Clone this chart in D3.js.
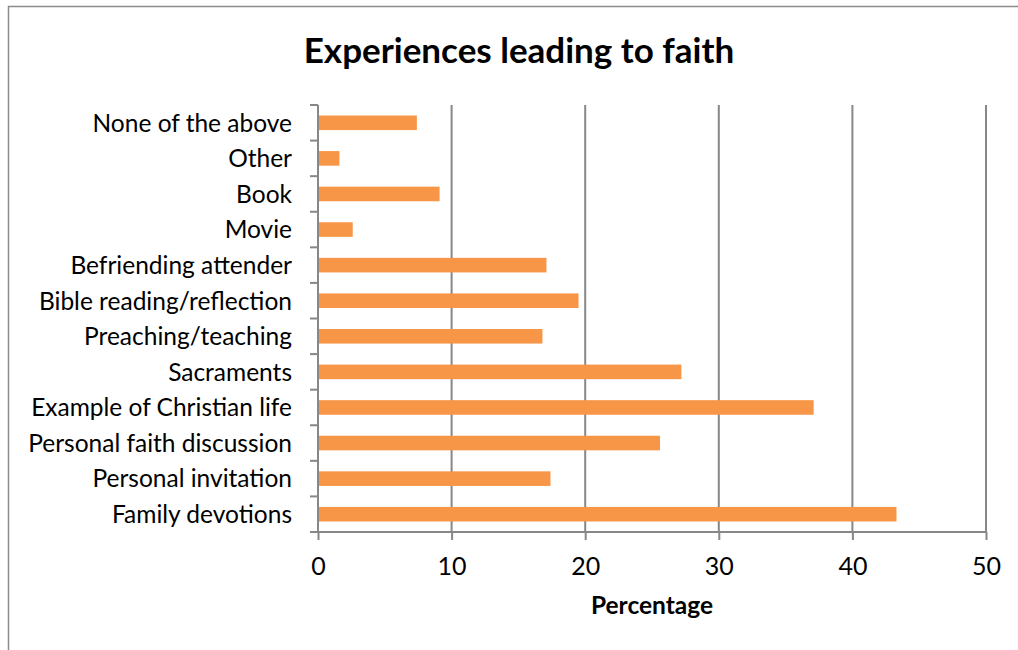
<!DOCTYPE html>
<html>
<head>
<meta charset="utf-8">
<script src="https://cdn.jsdelivr.net/npm/d3@7"></script>
<style>
  html, body { margin: 0; padding: 0; background: #fff; }
  svg { display: block; }
  text { font-family: Lato, "Open Sans", sans-serif; fill: #000; }
</style>
</head>
<body>
<svg id="chart" width="1018" height="650"></svg>
<script>
// Categories listed bottom-to-top as they appear on the chart
const categories = [
  "Family devotions",
  "Personal invitation",
  "Personal faith discussion",
  "Example of Christian life",
  "Sacraments",
  "Preaching/teaching",
  "Bible reading/reflection",
  "Befriending attender",
  "Movie",
  "Book",
  "Other",
  "None of the above"
];
const percentages = [43.3, 17.4, 25.6, 37.1, 27.2, 16.8, 19.5, 17.1, 2.6, 9.1, 1.6, 7.4];
const xTicks = [0, 10, 20, 30, 40, 50];
const chartTitle = "Experiences leading to faith";
const xAxisTitle = "Percentage";

const svg = d3.select("#chart");
const W = 1018, H = 650;
const margin = { left: 318, right: W - 986, top: 105, bottom: H - 532 };
const innerW = W - margin.left - margin.right;
const innerH = H - margin.top - margin.bottom;
const gridColor = "#878787";

// Outer chart frame
svg.append("path")
  .attr("d", `M8.5,${H} V6.5 H${W}`)
  .attr("fill", "none")
  .attr("stroke", "#8c8c8c")
  .attr("stroke-width", 1.5);

const g = svg.append("g").attr("transform", `translate(${margin.left},${margin.top})`);

const x = d3.scaleLinear().domain([0, 50]).range([0, innerW]);
// top of the band range is the last category so the first sits at the bottom
const y = d3.scaleBand()
  .domain(categories.slice().reverse())
  .range([0, innerH])
  .paddingInner(0.59)
  .paddingOuter(0.295);

// Vertical gridlines
g.append("g")
  .selectAll("line")
  .data(xTicks.filter(d => d > 0))
  .join("line")
  .attr("x1", d => x(d)).attr("x2", d => x(d))
  .attr("y1", 0).attr("y2", innerH)
  .attr("stroke", gridColor)
  .attr("stroke-width", 2);

// Bars
g.append("g")
  .selectAll("rect")
  .data(categories.map((c, i) => ({ c, v: percentages[i] })))
  .join("rect")
  .attr("x", x(0))
  .attr("y", d => y(d.c))
  .attr("width", d => x(d.v) - x(0))
  .attr("height", y.bandwidth())
  .attr("fill", "#F79646");

// X axis
const xAxis = g.append("g")
  .attr("transform", `translate(0,${innerH})`)
  .call(d3.axisBottom(x).tickValues(xTicks).tickSize(8).tickPadding(17).tickFormat(d3.format("d")));
xAxis.select(".domain").attr("stroke", gridColor).attr("stroke-width", 2).attr("d", `M0,0H${innerW}`);
xAxis.selectAll(".tick line").attr("stroke", gridColor).attr("stroke-width", 2);
xAxis.selectAll(".tick text").attr("font-size", 25).attr("font-family", "Lato, sans-serif").attr("fill", "#000");

// Y axis: ticks sit on the category boundaries
const boundaries = d3.range(categories.length + 1).map(i => i * innerH / categories.length);
const yAxisG = g.append("g");
yAxisG.append("line")
  .attr("x1", 0).attr("x2", 0).attr("y1", 0).attr("y2", innerH)
  .attr("stroke", gridColor).attr("stroke-width", 2);
yAxisG.selectAll("line.tick")
  .data(boundaries)
  .join("line")
  .attr("class", "tick")
  .attr("x1", -8).attr("x2", 0)
  .attr("y1", d => d).attr("y2", d => d)
  .attr("stroke", gridColor).attr("stroke-width", 2);
yAxisG.selectAll("text")
  .data(categories)
  .join("text")
  .attr("x", -26)
  .attr("y", d => y(d) + y.bandwidth() / 2)
  .attr("dy", "0.36em")
  .attr("text-anchor", "end")
  .attr("font-size", 24.5)
  .text(d => d);

// Titles
svg.append("text")
  .attr("x", 519).attr("y", 63)
  .attr("text-anchor", "middle")
  .attr("font-size", 35)
  .attr("font-weight", "bold")
  .text(chartTitle);

svg.append("text")
  .attr("x", 652).attr("y", 614)
  .attr("text-anchor", "middle")
  .attr("font-size", 24.5)
  .attr("font-weight", "bold")
  .text(xAxisTitle);
</script>
</body>
</html>
